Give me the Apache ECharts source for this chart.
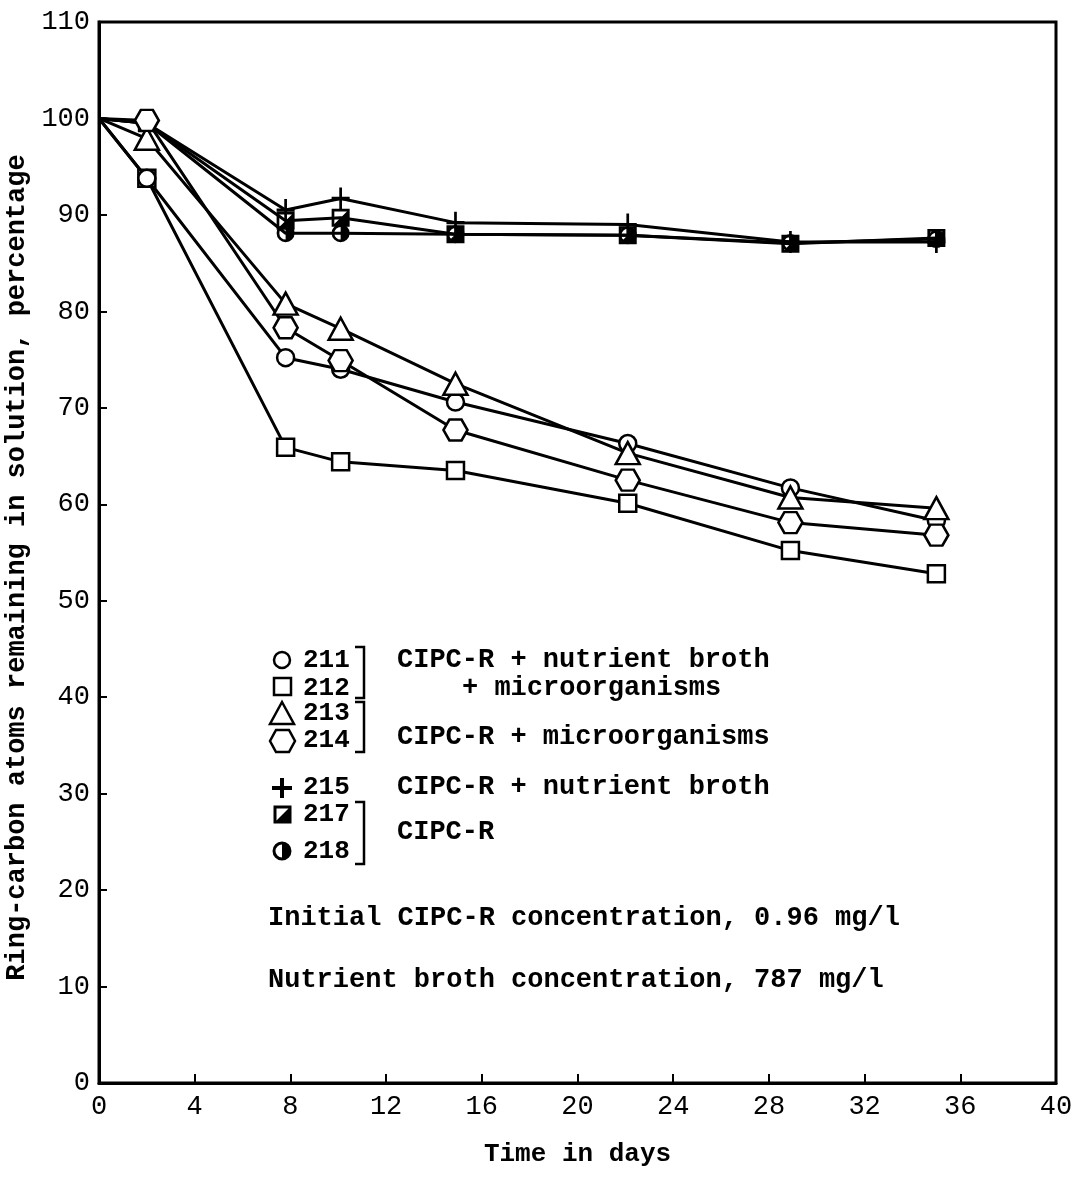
<!DOCTYPE html>
<html>
<head>
<meta charset="utf-8">
<script src="https://cdn.jsdelivr.net/npm/echarts@6/dist/echarts.min.js"></script>
<style>
  html, body { margin: 0; padding: 0; background: #fff; }
  #chart { width: 1091px; height: 1191px; }
</style>
</head>
<body>
<div id="chart"></div>
<script>
// sampling days
const days = [0, 2, 7.8, 10.1, 14.9, 22.1, 28.9, 35.0]

// ring-carbon atoms remaining, percentage
const s211 = [100, 93.8, 75.2, 74.0, 70.6, 66.3, 61.7, 58.3]
const s212 = [100, 93.8, 65.9, 64.4, 63.5, 60.1, 55.2, 52.8]
const s213 = [100, 97.9, 80.8, 78.2, 72.5, 65.3, 60.7, 59.6]
const s214 = [100, 99.8, 78.3, 74.9, 67.7, 62.5, 58.1, 56.8]
const s215 = [100, 99.5, 90.5, 91.7, 89.2, 89.0, 87.2, 87.2]
const s217 = [100, 99.5, 89.4, 89.7, 88.0, 87.9, 87.0, 87.6]
const s218 = [100, 99.5, 88.1, 88.1, 88.0, 87.9, 87.1, 87.5]

const xTicks = [0, 4, 8, 12, 16, 20, 24, 28, 32, 36, 40]

const FONT = '"Liberation Mono", "DejaVu Sans Mono", monospace'

const HEX = 'path://M5 0 L15 0 L20 9 L15 18 L5 18 L0 9 Z'
const PLUS = 'path://M8.5 0 H11.5 V8.5 H20 V11.5 H11.5 V20 H8.5 V11.5 H0 V8.5 H8.5 Z'
const HALF_SQ = 'path://M0 0 L20 0 L20 20 L0 20 Z M3 3 L3 17 L17 17 L17 3 Z M17 3 L17 17 L3 17 Z'
const HALF_CI = 'path://M10 0 A10 10 0 1 1 10 20 A10 10 0 1 1 10 0 Z M10 3 A7 7 0 1 0 10 17 A7 7 0 1 0 10 3 Z M10 3 A7 7 0 0 1 10 17 Z'

const chart = echarts.init(document.getElementById('chart'))

const makeSeries = (name, values, symbol, size, hollow) => ({
  name,
  type: 'line',
  data: values.map((v, i) => i === 0
    ? { value: [days[i], v], symbol: 'none' }
    : [days[i], v]),
  symbol,
  symbolSize: size,
  showAllSymbol: true,
  lineStyle: { color: '#000', width: 3 },
  itemStyle: hollow
    ? { color: '#fff', borderColor: '#000', borderWidth: 2.5 }
    : { color: '#000', borderWidth: 0 },
  emphasis: { disabled: true },
  animation: false
})

const textStyle = (text, x, y, size) => ({
  type: 'text',
  x, y,
  style: { text, fill: '#000', font: `bold ${size || 26}px ${FONT}`, verticalAlign: 'middle' }
})

const legendGraphics = [
  { type: 'circle', shape: { cx: 282, cy: 660, r: 8 }, style: { fill: '#fff', stroke: '#000', lineWidth: 2.5 } },
  { type: 'rect', shape: { x: 274, y: 678, width: 17, height: 17 }, style: { fill: '#fff', stroke: '#000', lineWidth: 2.5 } },
  { type: 'polygon', shape: { points: [[270, 724], [294, 724], [282, 702]] }, style: { fill: '#fff', stroke: '#000', lineWidth: 2.5 } },
  { type: 'polygon', shape: { points: [[276, 730], [289, 730], [295, 741], [289, 752], [276, 752], [270, 741]] }, style: { fill: '#fff', stroke: '#000', lineWidth: 2.5 } },
  { type: 'rect', shape: { x: 280, y: 778, width: 4, height: 20 }, style: { fill: '#000' } },
  { type: 'rect', shape: { x: 272, y: 786, width: 20, height: 4 }, style: { fill: '#000' } },
  { type: 'rect', shape: { x: 275, y: 807, width: 15, height: 15 }, style: { fill: '#fff', stroke: '#000', lineWidth: 3 } },
  { type: 'polygon', shape: { points: [[290, 807], [290, 822], [275, 822]] }, style: { fill: '#000' } },
  { type: 'circle', shape: { cx: 282, cy: 851, r: 8 }, style: { fill: '#fff', stroke: '#000', lineWidth: 3 } },
  { type: 'sector', shape: { cx: 282, cy: 851, r0: 0, r: 8, startAngle: -Math.PI / 2, endAngle: Math.PI / 2 }, style: { fill: '#000' } },

  textStyle('211', 303, 660),
  textStyle('212', 303, 688),
  textStyle('213', 303, 713),
  textStyle('214', 303, 740),
  textStyle('215', 303, 787),
  textStyle('217', 303, 814),
  textStyle('218', 303, 851),

  { type: 'polyline', shape: { points: [[355, 647], [364, 647], [364, 698], [355, 698]] }, style: { stroke: '#000', lineWidth: 2.5, fill: null } },
  { type: 'polyline', shape: { points: [[355, 702], [364, 702], [364, 752], [355, 752]] }, style: { stroke: '#000', lineWidth: 2.5, fill: null } },
  { type: 'polyline', shape: { points: [[355, 802], [364, 802], [364, 864], [355, 864]] }, style: { stroke: '#000', lineWidth: 2.5, fill: null } },

  textStyle('CIPC-R + nutrient broth', 397, 660, 27),
  textStyle('+ microorganisms', 462, 688, 27),
  textStyle('CIPC-R + microorganisms', 397, 737, 27),
  textStyle('CIPC-R + nutrient broth', 397, 787, 27),
  textStyle('CIPC-R', 397, 832, 27),
  textStyle('Initial CIPC-R concentration, 0.96 mg/l', 268, 918, 27),
  textStyle('Nutrient broth concentration, 787 mg/l', 268, 980, 27)
]

chart.setOption({
  backgroundColor: '#fff',
  animation: false,
  grid: {
    left: 99, right: 35, top: 22, bottom: 108,
    outerBoundsMode: 'none',
    containLabel: false,
    show: true, borderColor: '#000', borderWidth: 3
  },
  xAxis: {
    type: 'value',
    min: 0, max: 40, interval: 4,
    name: 'Time in days',
    nameLocation: 'middle',
    nameGap: 58,
    nameTextStyle: { fontFamily: FONT, fontWeight: 'bold', fontSize: 26, color: '#000' },
    axisLine: { show: true, lineStyle: { color: '#000', width: 3 } },
    axisTick: { show: true, inside: true, length: 9, lineStyle: { color: '#000', width: 2 } },
    axisLabel: { fontFamily: FONT, fontSize: 27, color: '#000', margin: 10,
      formatter: v => xTicks.includes(v) ? String(v) : '' },
    splitLine: { show: false }
  },
  yAxis: {
    type: 'value',
    min: 0, max: 110, interval: 10,
    name: 'Ring-carbon atoms remaining in solution, percentage',
    nameLocation: 'middle',
    nameGap: 66,
    nameTextStyle: { fontFamily: FONT, fontWeight: 'bold', fontSize: 27, color: '#000', padding: [0, 30, 0, 0] },
    axisLine: { show: true, lineStyle: { color: '#000', width: 3 } },
    axisTick: { show: true, inside: true, length: 8, lineStyle: { color: '#000', width: 2 } },
    axisLabel: { fontFamily: FONT, fontSize: 27, color: '#000', margin: 9 },
    splitLine: { show: false }
  },
  series: [
    makeSeries('215', s215, PLUS, [18, 22], false),
    makeSeries('217', s217, HALF_SQ, 18, false),
    makeSeries('218', s218, HALF_CI, 18, false),
    makeSeries('212', s212, 'rect', 17, true),
    makeSeries('211', s211, 'circle', 17, true),
    makeSeries('213', s213, 'triangle', [24, 22], true),
    makeSeries('214', s214, HEX, [24, 21], true)
  ],
  graphic: legendGraphics
})

window.addEventListener('resize', () => chart.resize())
</script>
</body>
</html>
